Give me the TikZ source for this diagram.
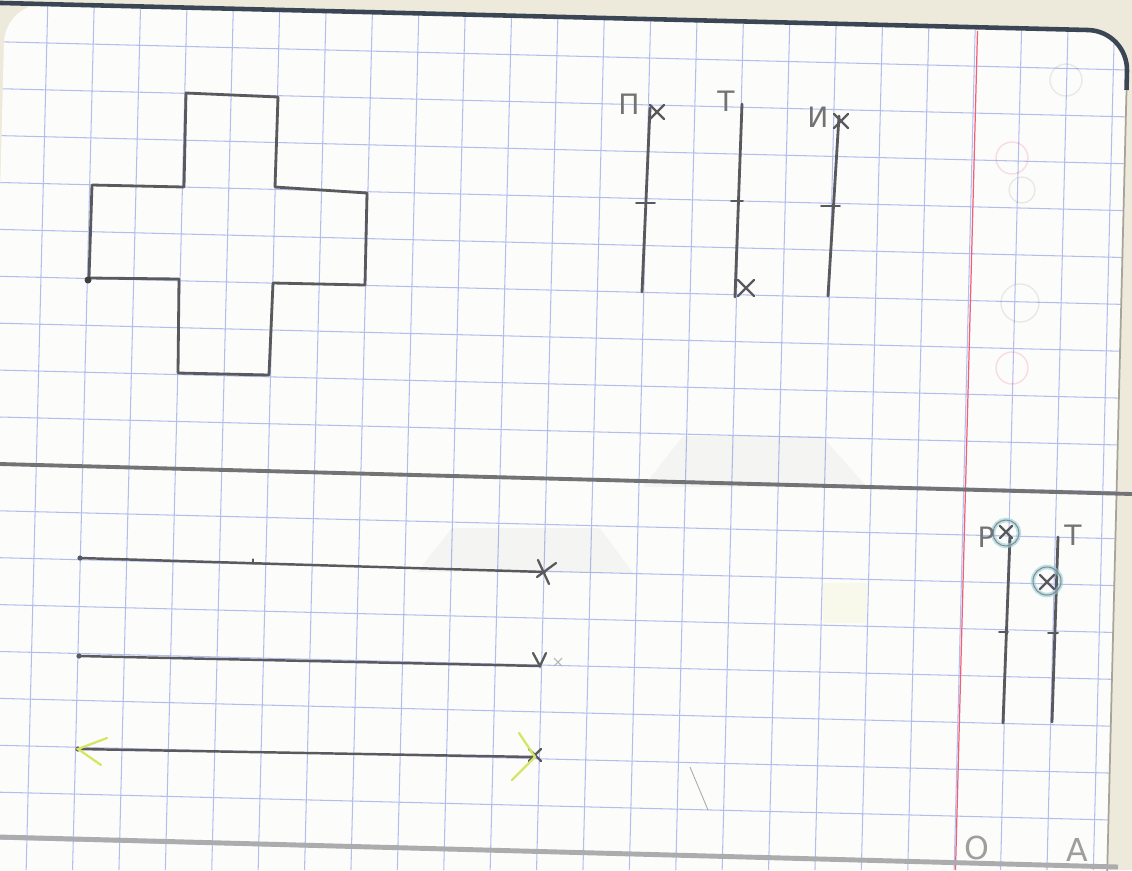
\documentclass[tikz,border=0pt]{standalone}
\usepackage{fontspec}
\setmainfont{DejaVu Sans}
\usepackage{xcolor}
\definecolor{paper}{HTML}{FCFCFA}
\definecolor{desk}{HTML}{EEEADB}
\definecolor{gridblue}{HTML}{B4BEEE}
\definecolor{marginred}{HTML}{F0607A}
\definecolor{pencil}{HTML}{5A5A5E}
\definecolor{edge}{HTML}{3B4654}
\definecolor{marker}{HTML}{D6E664}
\definecolor{ring}{HTML}{8FD0DC}
\usepackage{tikz}
\usetikzlibrary{calc}

\tikzset{
  gridline/.style={draw=gridblue, line width=0.6pt},
  pen/.style={draw=pencil, line width=1.6pt, line cap=round, line join=round},
  thinpen/.style={draw=pencil, line width=1.1pt, line cap=round},
  hl/.style={draw=marker, line width=1.3pt, line cap=round},
  ghost/.style={fill=black, opacity=0.03},
  lbl/.style={text=pencil!85, inner sep=0pt, font=\fontsize{16}{16}\selectfont},
  faint/.style={text=black!38, inner sep=0pt, font=\fontsize{18}{18}\selectfont},
}

% X mark: centre, half size
\newcommand{\xmark}[2]{%
  \draw[thinpen, line width=1.3pt] ($(#1)+(-#2,-#2)$) -- ($(#1)+(#2,#2)$)
    ($(#1)+(-#2,#2)$) -- ($(#1)+(#2,-#2)$);}

\begin{document}
\begin{tikzpicture}[x=0.02cm, y=-0.02cm]
  \useasboundingbox (0,0) rectangle (1132,870);
  % masa
  \fill[desk] (0,0) rectangle (1132,870);
  % sayfa
  \fill[paper, rounded corners=0.8cm] (5,3) -- (1128,31) -- (1105,960) -- (-20,960) -- cycle;

  % kareli zemin
  \begin{scope}
    \clip[rounded corners=0.8cm] (5,3) -- (1128,31) -- (1105,960) -- (-20,960) -- cycle;
    \foreach \k in {-1,...,23}
      \draw[gridline] ({94.3+46.4*\k},0) -- ({72.55+46.4*\k},870);
    \foreach \j in {-2,...,17}
      \draw[gridline] (0,{88.7+46.9*\j}) -- (1132,{117+46.9*\j});
    % arka yüzden geçen izler
    \fill[ghost] (643,487) -- (683,436) -- (822,436) -- (867,487) -- cycle;
    \fill[ghost] (417,572) -- (452,528) -- (600,528) -- (633,573) -- cycle;
    \fill[marker, opacity=0.1] (823,583) rectangle (867,623);
    \draw[marginred, opacity=0.2, line width=0.8pt] (1012,158) circle (16) (1012,368) circle (16);
    \draw[black, opacity=0.08, line width=0.8pt] (1022,190) circle (13) (1020,303) circle (19) (1066,80) circle (16);
    \draw[pencil, opacity=0.5, line width=0.5pt] (690,767) -- (708,810);
  \end{scope}

  % sayfa kenarı
  \draw[edge, line width=2.6pt, rounded corners=0.8cm] (-10,2.7) -- (1128,31) -- (1126.5,90);
  \draw[desk!70!black, line width=1pt] (1126.5,90) -- (1105,960);
  % kenar boşluğu çizgisi
  \draw[marginred, line width=0.7pt] (977.5,31) -- (955.5,870);
  % bölme çizgileri
  \draw[pencil!85, line width=2.2pt] (0,464) -- (1132,494);
  \draw[pencil!50, line width=2.8pt] (0,837) -- (1118,867);

  % haç biçimli açınım
  \draw[pen] (186,93) -- (278,97) -- (275,187) -- (367,193) -- (365,285) -- (273,283)
    -- (269,375) -- (178,373) -- (179,279) -- (89,278) -- (92,185) -- (184,187) -- cycle;
  \fill[pencil!70!black] (88,280) circle (3.5);

  % üst sağ: П, Т, И
  \coordinate (pTop) at (650,108);  \coordinate (pBot) at (642,292);
  \coordinate (tTop) at (742,104);  \coordinate (tBot) at (735,297);
  \coordinate (iTop) at (839,116);  \coordinate (iBot) at (828,296);
  \draw[pen] (pTop) -- (pBot);
  \draw[pen] (tTop) -- (tBot);
  \draw[pen] (iTop) -- (iBot);
  \draw[thinpen] (636,203) -- (655,203);
  \draw[thinpen] (731,201) -- (743,201);
  \draw[thinpen] (821,206) -- (840,206);
  \xmark{657,112}{7}
  \xmark{746,288}{8}
  \xmark{841,121}{7}
  \node[lbl] (lblP) at (629,104) {П};
  \node[lbl] (lblT) at (726,101) {Т};
  \node[lbl] (lblI) at (818,117) {И};

  % alt sol: üç doğru
  \coordinate (aL) at (80,558);  \coordinate (aR) at (545,572);
  \coordinate (bL) at (79,656);  \coordinate (bR) at (540,666);
  \coordinate (cL) at (78,749);  \coordinate (cR) at (535,757);
  \draw[pen, line width=1.4pt] (aL) -- (aR);
  \draw[pen, line width=1.4pt] (bL) -- (bR);
  \draw[pen, line width=1.4pt] (cL) -- (cR);
  \foreach \p in {aL,bL,cL}
    \fill[pencil] (\p) circle (2.6);
  \draw[thinpen, line width=0.6pt] (253,559) -- (253,564);
  % uç işaretleri
  \draw[thinpen, line width=1.3pt] (538,560) -- (549,584) (556,563) -- (537,577);
  \draw[thinpen, line width=1.3pt] (533,653) -- (540,666) -- (546,653);
  \draw[pencil!45, line width=0.6pt] (554,658) -- (562,666) (562,658) -- (554,666);
  \xmark{535,755}{6}
  \draw[hl] (107,738) -- (cL) -- (101,765);
  \draw[hl] (519,733) -- (cR) -- (512,780);

  % alt sağ: Р, Т
  \coordinate (rTop) at (1010,537);  \coordinate (rBot) at (1003,723);
  \coordinate (sTop) at (1058,537);  \coordinate (sBot) at (1052,722);
  \draw[pen] (rTop) -- (rBot);
  \draw[pen] (sTop) -- (sBot);
  \draw[thinpen] (999,632) -- (1008,632);
  \draw[thinpen] (1048,633) -- (1058,633);
  \draw[ring, line width=2.6pt, opacity=0.6] (1006,533) circle (13) (1047,581) circle (14);
  \draw[pencil!70, line width=0.6pt] (1006,533) circle (13) (1047,581) circle (14);
  \xmark{1006,532}{6}
  \xmark{1047,582}{7}
  \node[lbl] (lblR) at (986,537) {Р};
  \node[lbl] (lblS) at (1073,535) {Т};

  % köşedeki harfler
  \node[faint] (lblO) at (977,848) {О};
  \node[faint] (lblA) at (1077,850) {А};
\end{tikzpicture}
\end{document}
